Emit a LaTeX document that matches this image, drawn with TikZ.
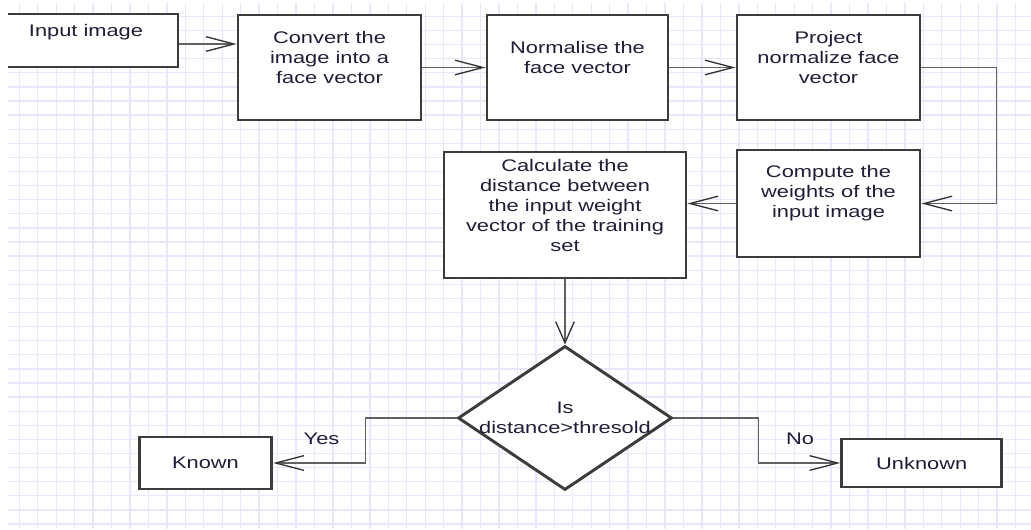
\documentclass[tikz,border=0pt]{standalone}
\usepackage{fontspec}
\setmainfont{Liberation Sans}[FakeStretch=1.3]
\usetikzlibrary{shapes.geometric,arrows.meta}
\definecolor{gridblue}{RGB}{232,232,252}
\definecolor{boxline}{RGB}{60,60,60}
\definecolor{textink}{RGB}{30,30,55}
\tikzset{
  stepbox/.style={draw=boxline, line width=2.2pt, fill=white, rectangle, inner sep=0pt},
  decision/.style={draw=boxline, line width=2.2pt, fill=white, diamond, inner sep=0pt},
  txt/.style={text=textink, align=center, inner sep=0pt, font=\fontsize{12.6}{15}\selectfont},
  flow/.style={draw=black!62, line width=1.4pt, -{Straight Barb[length=21pt,width=11pt,line width=1pt,color=black!80]}},
  flowdown/.style={flow, -{Straight Barb[length=16pt,width=14pt,line width=1pt,color=black!80]}},
  gridline/.style={draw=gridblue, line width=1pt}
}
\begin{document}
\begin{tikzpicture}[x=0.75pt, y=-0.75pt]
\useasboundingbox (0,0) rectangle (1031,529);
\begin{scope}
\clip (8,3) rectangle (1031,529);
% background grid
\foreach \k in {1,...,55}
  \draw[gridline] ({0.85+18.45*\k},3) -- ++(0,526);
\foreach \k in {0,...,37}
  \draw[gridline] (8,{2.3+14.1*\k}) -- ++(1023,0);

% boxes
\node[stepbox, minimum width=141pt, minimum height=39.75pt] (inp) at (84,40.5) {};
\node[stepbox, minimum width=137.25pt, minimum height=78.75pt] (conv) at (329.5,67.5) {};
\node[stepbox, minimum width=135.75pt, minimum height=78.75pt] (norm) at (577.5,67.5) {};
\node[stepbox, minimum width=137.25pt, minimum height=78.75pt] (proj) at (828.5,67.5) {};
\node[stepbox, minimum width=137.25pt, minimum height=80.25pt] (comp) at (828.5,203.5) {};
\node[stepbox, minimum width=181.5pt, minimum height=94.5pt] (calc) at (565,215) {};
\node[decision, minimum width=160.5pt, minimum height=108pt] (dec) at (565,418) {};
\node[stepbox, txt, draw=boxline, minimum width=99.4pt, minimum height=39pt] (known) at (205.5,463) {Known};
\node[stepbox, txt, draw=boxline, minimum width=120pt, minimum height=36pt] (unk) at (921.7,463) {Unknown};

% texts
\node[txt] (inptxt) at ([xshift=1.5pt, yshift=6pt]inp.center) {Input image};
\node[txt] (convtxt) at ([yshift=7.5pt]conv.center) {Convert the\\image into a\\face vector};
\node[txt] (normtxt) at ([yshift=7.5pt]norm.center) {Normalise the\\face vector};
\node[txt] (projtxt) at ([yshift=7.5pt]proj.center) {Project\\normalize face\\vector};
\node[txt] (comptxt) at ([yshift=7.5pt]comp.center) {Compute the\\weights of the\\input image};
\node[txt] (calctxt) at ([yshift=7pt]calc.center) {Calculate the\\distance between\\the input weight\\vector of the training\\set};
\node[txt] (dectxt) at (dec.center) {Is\\distance>thresold};

% connectors
\coordinate (inrow) at (0,44);
\draw[flow] (inp.east |- inrow) -- (conv.west |- inrow);
\draw[flow] (conv.east) -- (norm.west);
\draw[flow] (norm.east) -- (proj.west);
\draw[flow] (proj.east) -- ++(75,0) |- (comp.east);
\draw[flow] (comp.west) -- (comp.west -| calc.east);
\draw[flowdown] (calc.south) -- (dec.north);
\draw[flow] (dec.west) -- ++(-91,0) |- (known.east);
\draw[flow] (dec.east) -- ++(85,0) |- (unk.west);
\node[txt] (yes) at (321.5,439) {Yes};
\node[txt] (no) at (800,439) {No};
\end{scope}
\end{tikzpicture}
\end{document}
